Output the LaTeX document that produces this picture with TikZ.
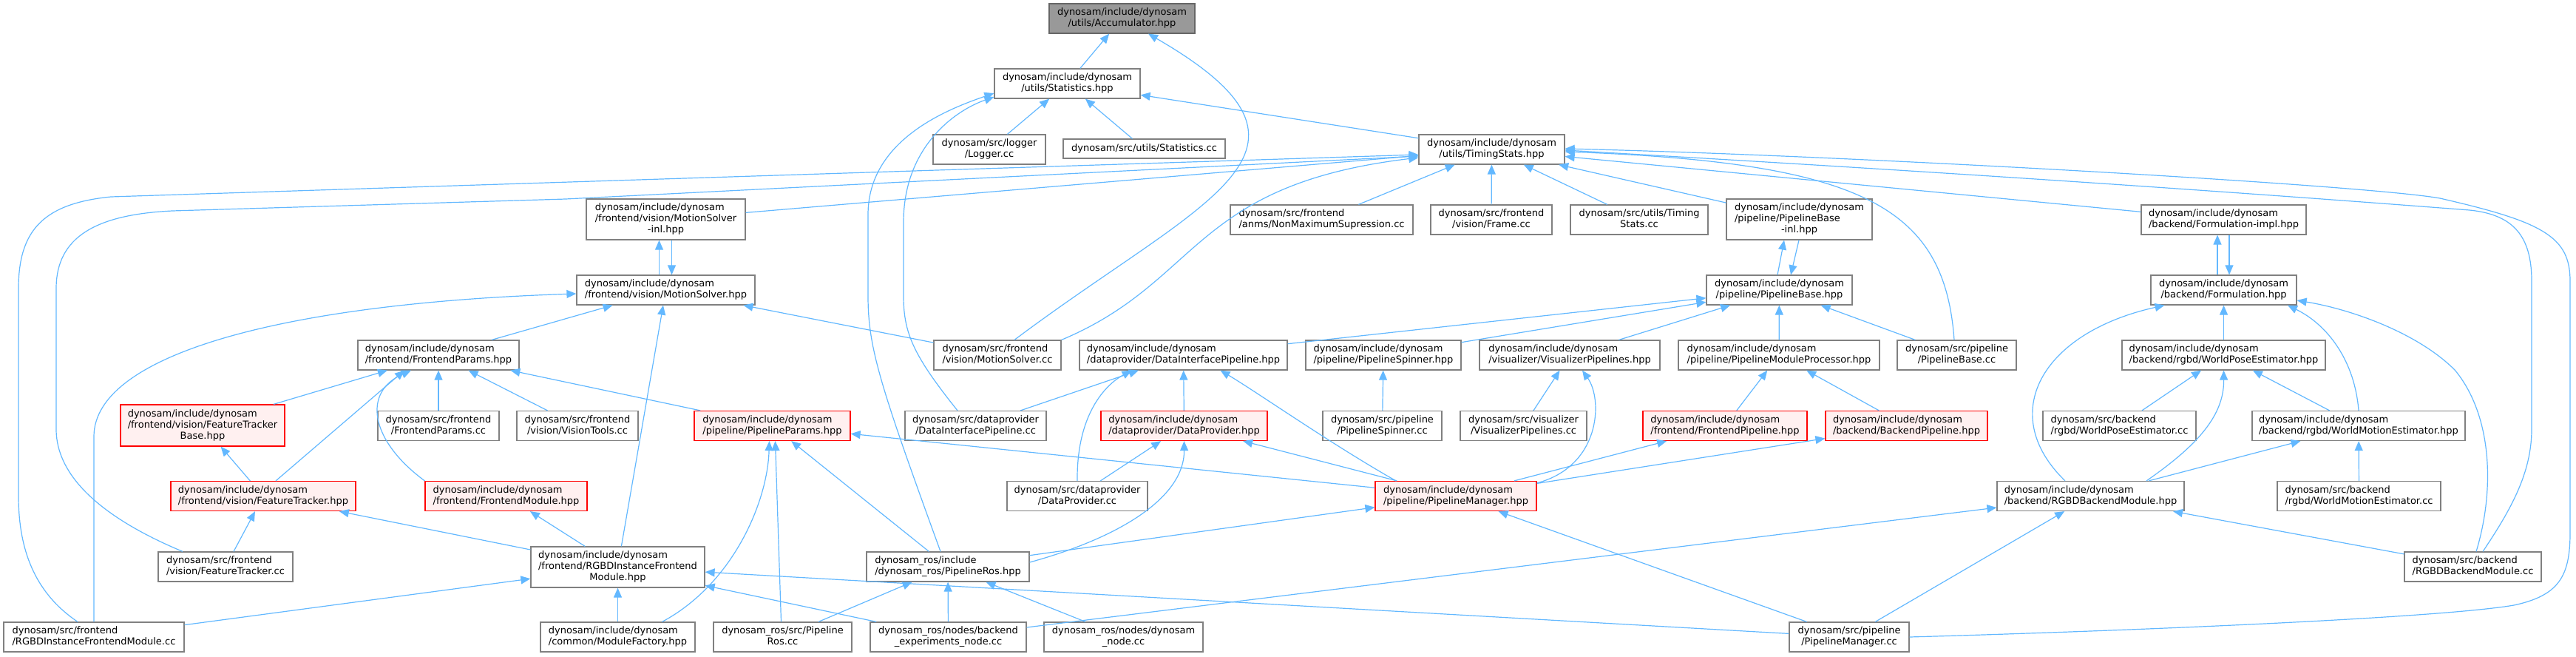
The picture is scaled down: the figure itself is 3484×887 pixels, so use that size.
\documentclass[tikz,border=0pt]{standalone}
\usepackage{fontspec}
\setmainfont{DejaVu Sans}
\usetikzlibrary{arrows.meta}
\definecolor{cedge}{HTML}{63B8FF}
\definecolor{cborder}{HTML}{808080}
\definecolor{cred}{HTML}{FF0000}
\definecolor{cpink}{HTML}{FFF0F0}
\definecolor{ccur}{HTML}{999999}
\newcommand{\fname}[2]{\begin{tabular}{@{}l@{}}#1\\\multicolumn{1}{@{}c@{}}{#2}\end{tabular}}
\tikzset{
  every picture/.style={font=\fontsize{13pt}{15pt}\selectfont},
  file/.style={draw=cborder, fill=white, line width=1.2pt, inner sep=0pt, minimum height=40pt},
  redfile/.style={file, draw=cred, fill=cpink},
  curfile/.style={file, draw=black!60, fill=ccur},
  inc/.style={draw=cedge, line width=1.2pt, -{Triangle[length=13pt, width=11pt]}},
}

\begin{document}
\begin{tikzpicture}[x=1pt, y=-1pt]
  \useasboundingbox (0,0) rectangle (3484,887);
  % files
  \node[curfile, minimum width=197pt] (acc) at (1517.5,25) {\fname{dynosam/include/dynosam}{/utils/Accumulator.hpp}};
  \node[file, minimum width=197pt] (stath) at (1443.5,113) {\fname{dynosam/include/dynosam}{/utils/Statistics.hpp}};
  \node[file, minimum width=152pt] (logger) at (1338,202) {\fname{dynosam/src/logger}{/Logger.cc}};
  \node[file, minimum width=219pt, minimum height=26pt] (statcc) at (1547.5,201) {dynosam/src/utils/Statistics.cc};
  \node[file, minimum width=197pt] (timing) at (2017.5,202) {\fname{dynosam/include/dynosam}{/utils/TimingStats.hpp}};
  \node[file, minimum width=247pt] (nonmax) at (1787.5,297) {\fname{dynosam/src/frontend}{/anms/NonMaximumSupression.cc}};
  \node[file, minimum width=164pt] (frame) at (2017,297) {\fname{dynosam/src/frontend}{/vision/Frame.cc}};
  \node[file, minimum width=186pt] (timcc) at (2217,297) {\fname{dynosam/src/utils/Timing}{Stats.cc}};
  \node[file, minimum width=197pt, minimum height=55pt] (pbinl) at (2433.5,296.5) {\fname{dynosam/include/dynosam\\/pipeline/PipelineBase}{-inl.hpp}};
  \node[file, minimum width=223pt] (formimpl) at (3007.5,297) {\fname{dynosam/include/dynosam}{/backend/Formulation-impl.hpp}};
  \node[file, minimum width=215pt, minimum height=55pt] (msinl) at (900.5,296.5) {\fname{dynosam/include/dynosam\\/frontend/vision/MotionSolver}{-inl.hpp}};
  \node[file, minimum width=241pt] (msh) at (900.5,392) {\fname{dynosam/include/dynosam}{/frontend/vision/MotionSolver.hpp}};
  \node[file, minimum width=197pt] (pbh) at (2406.5,392) {\fname{dynosam/include/dynosam}{/pipeline/PipelineBase.hpp}};
  \node[file, minimum width=197pt] (formh) at (3007.5,392) {\fname{dynosam/include/dynosam}{/backend/Formulation.hpp}};
  \node[file, minimum width=218pt] (fparams) at (593,480) {\fname{dynosam/include/dynosam}{/frontend/FrontendParams.hpp}};
  \node[file, minimum width=172pt] (mscc) at (1349,480) {\fname{dynosam/src/frontend}{/vision/MotionSolver.cc}};
  \node[file, minimum width=281pt] (dip) at (1600.5,480) {\fname{dynosam/include/dynosam}{/dataprovider/DataInterfacePipeline.hpp}};
  \node[file, minimum width=210pt] (spinh) at (1871,480) {\fname{dynosam/include/dynosam}{/pipeline/PipelineSpinner.hpp}};
  \node[file, minimum width=244pt] (vish) at (2123,480) {\fname{dynosam/include/dynosam}{/visualizer/VisualizerPipelines.hpp}};
  \node[file, minimum width=272pt] (pmp) at (2406,480) {\fname{dynosam/include/dynosam}{/pipeline/PipelineModuleProcessor.hpp}};
  \node[file, minimum width=161pt] (pbcc) at (2646.5,480) {\fname{dynosam/src/pipeline}{/PipelineBase.cc}};
  \node[file, minimum width=275pt] (wpeh) at (3007.5,480) {\fname{dynosam/include/dynosam}{/backend/rgbd/WorldPoseEstimator.hpp}};
  \node[redfile, minimum width=222pt, minimum height=56pt] (ftbase) at (274,575) {\fname{dynosam/include/dynosam\\/frontend/vision/FeatureTracker}{Base.hpp}};
  \node[file, minimum width=164pt] (fpcc) at (593,575.5) {\fname{dynosam/src/frontend}{/FrontendParams.cc}};
  \node[file, minimum width=164pt] (vtcc) at (781,575.5) {\fname{dynosam/src/frontend}{/vision/VisionTools.cc}};
  \node[redfile, minimum width=211pt] (ppar) at (1044.5,575.5) {\fname{dynosam/include/dynosam}{/pipeline/PipelineParams.hpp}};
  \node[file, minimum width=191pt] (dipcc) at (1319.5,575.5) {\fname{dynosam/src/dataprovider}{/DataInterfacePipeline.cc}};
  \node[redfile, minimum width=225pt] (dph) at (1601.5,575.5) {\fname{dynosam/include/dynosam}{/dataprovider/DataProvider.hpp}};
  \node[file, minimum width=161pt] (spincc) at (1869.5,575.5) {\fname{dynosam/src/pipeline}{/PipelineSpinner.cc}};
  \node[file, minimum width=171pt] (viscc) at (2060.5,575.5) {\fname{dynosam/src/visualizer}{/VisualizerPipelines.cc}};
  \node[redfile, minimum width=222pt] (fpipe) at (2333,575.5) {\fname{dynosam/include/dynosam}{/frontend/FrontendPipeline.hpp}};
  \node[redfile, minimum width=219pt] (bpipe) at (2578.5,575.5) {\fname{dynosam/include/dynosam}{/backend/BackendPipeline.hpp}};
  \node[file, minimum width=207pt] (wpecc) at (2866.5,575.5) {\fname{dynosam/src/backend}{/rgbd/WorldPoseEstimator.cc}};
  \node[file, minimum width=288pt] (wmeh) at (3190,575.5) {\fname{dynosam/include/dynosam}{/backend/rgbd/WorldMotionEstimator.hpp}};
  \node[redfile, minimum width=250pt] (fth) at (356,670.5) {\fname{dynosam/include/dynosam}{/frontend/vision/FeatureTracker.hpp}};
  \node[redfile, minimum width=219pt] (fmod) at (684.5,670.5) {\fname{dynosam/include/dynosam}{/frontend/FrontendModule.hpp}};
  \node[file, minimum width=190pt] (dpcc) at (1457,670.5) {\fname{dynosam/src/dataprovider}{/DataProvider.cc}};
  \node[redfile, minimum width=218pt] (pmh) at (1969,670.5) {\fname{dynosam/include/dynosam}{/pipeline/PipelineManager.hpp}};
  \node[file, minimum width=253pt] (rbmh) at (2827.5,670.5) {\fname{dynosam/include/dynosam}{/backend/RGBDBackendModule.hpp}};
  \node[file, minimum width=221pt] (wmecc) at (3190.5,670.5) {\fname{dynosam/src/backend}{/rgbd/WorldMotionEstimator.cc}};
  \node[file, minimum width=182pt] (ftcc) at (305,766) {\fname{dynosam/src/frontend}{/vision/FeatureTracker.cc}};
  \node[file, minimum width=235pt, minimum height=55pt] (rifmh) at (835.5,766.5) {\fname{dynosam/include/dynosam\\/frontend/RGBDInstanceFrontend}{Module.hpp}};
  \node[file, minimum width=220pt] (pros) at (1282,766) {\fname{dynosam\_ros/include}{/dynosam\_ros/PipelineRos.hpp}};
  \node[file, minimum width=185pt] (rbmcc) at (3344.5,766) {\fname{dynosam/src/backend}{/RGBDBackendModule.cc}};
  \node[file, minimum width=244pt] (rifmcc) at (127,861) {\fname{dynosam/src/frontend}{/RGBDInstanceFrontendModule.cc}};
  \node[file, minimum width=209pt] (modfac) at (835.5,861) {\fname{dynosam/include/dynosam}{/common/ModuleFactory.hpp}};
  \node[file, minimum width=187pt] (proscc) at (1058.5,861) {\fname{dynosam\_ros/src/Pipeline}{Ros.cc}};
  \node[file, minimum width=211pt] (bexp) at (1282.5,861) {\fname{dynosam\_ros/nodes/backend}{\_experiments\_node.cc}};
  \node[file, minimum width=215pt] (dnode) at (1519.5,861) {\fname{dynosam\_ros/nodes/dynosam}{\_node.cc}};
  \node[file, minimum width=162pt] (pmcc) at (2501,861) {\fname{dynosam/src/pipeline}{/PipelineManager.cc}};

  % utils
  \draw[inc] (stath) -- (acc);
  \draw[inc] ([xshift=23pt]mscc.north) .. controls (1627,268) and (1829,205) .. ([xshift=35.5pt]acc.south);
  \draw[inc] (logger) -- (stath);
  \draw[inc] (statcc) -- (stath);
  \draw[inc] (timing) -- (stath);
  \draw[inc] ([xshift=-10pt]pros.north) .. controls (1190,520) and (1174,470) .. (1174,400) -- (1174,290) .. controls (1174,190) and (1280,148) .. ([yshift=-13pt]stath.west);
  \draw[inc] ([xshift=-24.5pt]dipcc.north) .. controls (1235,480) and (1222,450) .. (1222,400) -- (1222,300) .. controls (1222,200) and (1290,150) .. ([yshift=-18pt]stath.west);
  \draw[inc] (nonmax) -- (timing);
  \draw[inc] (frame) -- (timing);
  \draw[inc] (timcc) -- (timing);
  \draw[inc] (pbinl) -- (timing);
  \draw[inc] (formimpl) -- (timing);
  \draw[inc] (msinl) -- (timing);
  \draw[inc] (mscc.north east) .. controls (1625,380) and (1610,250) .. ([yshift=-11pt]timing.west);
  \draw[inc] ([xshift=-58pt]ftcc.north) .. controls (150,705) and (76,650) .. (76,580) -- (76,390) .. controls (76,320) and (130,290) .. (233,285) -- (765,269) -- ([yshift=-9pt]timing.west);
  \draw[inc] ([xshift=-22pt]rifmcc.north) .. controls (45,800) and (25,740) .. (25,670) -- (25,390) .. controls (25,310) and (60,275) .. (150,266) -- ([yshift=-7pt]timing.west);
  \draw[inc] ([xshift=-3.5pt]pbcc.north) .. controls (2630,280) and (2520,220) .. ([yshift=-3pt]timing.east);
  \draw[inc] ([xshift=13.5pt]rbmcc.north) .. controls (3395,690) and (3424,640) .. (3424,580) -- (3424,380) .. controls (3424,320) and (3400,290) .. (3340,284) .. controls (2900,250) and (2500,225) .. ([yshift=-1pt]timing.east);
  \draw[inc] (pmcc.east) .. controls (2900,852) and (3300,835) .. (3400,818) .. controls (3460,805) and (3476,780) .. (3476,720) -- (3476,380) .. controls (3476,320) and (3440,300) .. (3300,268) .. controls (3200,250) and (2500,210) .. ([yshift=1pt]timing.east);
  % motion solver
  \draw[inc] ([xshift=-9pt]msh.north) -- ([xshift=-9pt]msinl.south);
  \draw[inc] ([xshift=8pt]msinl.south) -- ([xshift=8pt]msh.north);
  \draw[inc] (fparams) -- (msh);
  \draw[inc] (mscc) -- (msh);
  \draw[inc] (rifmh) -- (msh);
  \draw[inc] (rifmcc.north) -- (127,590) .. controls (127,480) and (380,410) .. ([yshift=-5pt]msh.west);
  % frontend params
  \draw[inc] (ftbase) -- (fparams);
  \draw[inc] ([xshift=17pt]fth.north) -- ([xshift=-46pt]fparams.south);
  \draw[inc] (fmod.north west) .. controls (500,595) and (490,530) .. ([xshift=-37pt]fparams.south);
  \draw[inc] (fpcc) -- (fparams);
  \draw[inc] (vtcc) -- (fparams);
  \draw[inc] (ppar) -- (fparams);
  \draw[inc] (fth) -- (ftbase);
  \draw[inc] (ftcc) -- (fth);
  \draw[inc] (rifmh) -- (fth);
  \draw[inc] (rifmh) -- (fmod);
  \draw[inc] (rifmcc) -- (rifmh);
  \draw[inc] (modfac) -- (rifmh);
  \draw[inc] (pmcc) -- (rifmh);
  \draw[inc] (bexp) -- (rifmh);
  % pipeline params
  \draw[inc] (pmh) -- (ppar);
  \draw[inc] (pros) -- (ppar);
  \draw[inc] ([xshift=60pt]modfac.north) .. controls (990,790) and (1038,680) .. ([xshift=-4pt]ppar.south);
  \draw[inc] ([xshift=-2pt]proscc.north) -- ([xshift=4pt]ppar.south);
  % data interface
  \draw[inc] (dipcc) -- (dip);
  \draw[inc] (dpcc.north) .. controls (1456,560) and (1495,520) .. ([xshift=-70pt]dip.south);
  \draw[inc] (dph) -- (dip);
  \draw[inc] ([xshift=-81pt]pmh.north) .. controls (1800,600) and (1700,530) .. ([xshift=50pt]dip.south);
  \draw[inc] (dpcc) -- (dph);
  \draw[inc] (pmh) -- (dph);
  \draw[inc] ([yshift=6pt]pros.east) .. controls (1520,725) and (1602,670) .. (dph.south);
  \draw[inc] (pros) -- (pmh);
  % pipeline base
  \draw[inc] ([xshift=-2.5pt]pbh.north) -- ([xshift=-20.5pt]pbinl.south);
  \draw[inc] ([xshift=-0.5pt]pbinl.south) -- ([xshift=15.5pt]pbh.north);
  \draw[inc] (dip) -- (pbh);
  \draw[inc] (spinh) -- (pbh);
  \draw[inc] (vish) -- (pbh);
  \draw[inc] (pmp) -- (pbh);
  \draw[inc] (pbcc) -- (pbh);
  \draw[inc] (spincc) -- (spinh);
  \draw[inc] (viscc) -- (vish);
  \draw[inc] ([yshift=-3pt]pmh.north east) .. controls (2165,630) and (2168,540) .. ([xshift=17pt]vish.south);
  \draw[inc] (fpipe) -- (pmp);
  \draw[inc] (bpipe) -- (pmp);
  \draw[inc] (pmh) -- (fpipe);
  \draw[inc] (pmh) -- (bpipe);
  \draw[inc] (pmcc) -- (pmh);
  % formulation
  \draw[inc] ([xshift=-8.5pt]formh.north) -- ([xshift=-8.5pt]formimpl.south);
  \draw[inc] ([xshift=7.5pt]formimpl.south) -- ([xshift=7.5pt]formh.north);
  \draw[inc] (wpeh) -- (formh);
  \draw[inc] ([xshift=-34.5pt]rbmh.north) .. controls (2700,560) and (2760,450) .. ([xshift=-80pt]formh.south);
  \draw[inc] (wmeh.north) .. controls (3185,490) and (3150,440) .. ([xshift=86.5pt]formh.south);
  \draw[inc] ([xshift=4.5pt]rbmcc.north) .. controls (3375,660) and (3370,560) .. (3320,500) .. controls (3270,450) and (3180,418) .. ([yshift=-14pt]formh.east);
  \draw[inc] (wpecc) -- (wpeh);
  \draw[inc] (wmeh) -- (wpeh);
  \draw[inc] ([xshift=75.5pt]rbmh.north) .. controls (2975,600) and (3008,560) .. (wpeh.south);
  \draw[inc] (wmecc) -- (wmeh);
  \draw[inc] (rbmh) -- (wmeh);
  % backend module
  \draw[inc] (pmcc) -- (rbmh);
  \draw[inc] (rbmcc) -- (rbmh);
  \draw[inc] (bexp) -- (rbmh);
  % ros
  \draw[inc] (proscc) -- (pros);
  \draw[inc] (bexp) -- (pros);
  \draw[inc] (dnode) -- (pros);
\end{tikzpicture}
\end{document}
